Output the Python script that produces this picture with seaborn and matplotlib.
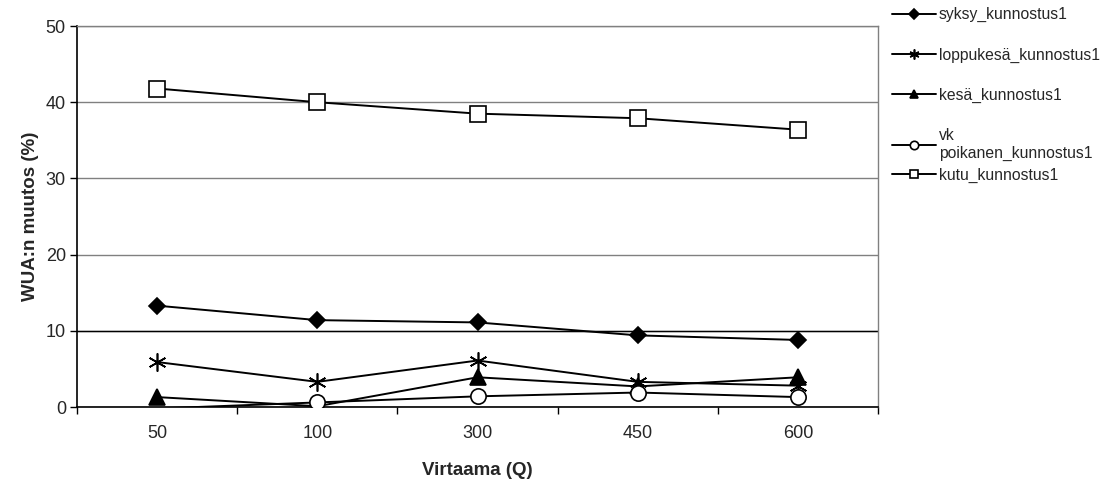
import numpy as np
import pandas as pd
import matplotlib
matplotlib.use("Agg")
import matplotlib.pyplot as plt
import seaborn as sns

# ── DATA ──────────────────────────────────────────────────────────────────────
virtaama = ["50", "100", "300", "450", "600"]
syksy = [13.3, 11.4, 11.1, 9.4, 8.8]
loppukesa = [5.9, 3.3, 6.1, 3.3, 2.8]
kesa = [1.3, 0.1, 3.9, 2.7, 3.9]
vk_poikanen = [-0.2, 0.6, 1.4, 1.9, 1.3]
kutu = [41.8, 40.0, 38.5, 37.9, 36.4]

series_names = ["syksy_kunnostus1", "loppukesä_kunnostus1", "kesä_kunnostus1",
                "vk\npoikanen_kunnostus1", "kutu_kunnostus1"]
series_values = [syksy, loppukesa, kesa, vk_poikanen, kutu]

# marker style per series: (marker, size, facecolor)
STYLES = [("D", 8.5, "black"), ((6, 2, 0), 13, "black"), ("^", 11, "black"),
          ("o", 11, "white"), ("s", 11.5, "white")]

# ── PLOT ──────────────────────────────────────────────────────────────────────
sns.set_style("white")
plt.rcParams["font.family"] = ["Liberation Sans", "DejaVu Sans"]

fig = plt.figure(figsize=(11.05, 4.82), dpi=100)
ax = fig.add_axes([0.0697, 0.1556, 0.7249, 0.7904])

xpos = np.arange(len(virtaama))
for name, vals, (mk, ms, fc) in zip(series_names, series_values, STYLES):
    df = pd.DataFrame({"x": xpos, "y": vals})
    sns.lineplot(data=df, x="x", y="y", ax=ax, color="black", lw=1.4,
                 marker=mk, markersize=ms, markerfacecolor=fc,
                 markeredgecolor="black", markeredgewidth=1.2, label=name,
                 zorder=3)
    line = ax.lines[-1]
    # like the original, don't draw markers that fall below the axis
    line.set_markevery([i for i, v in enumerate(vals) if v >= 0])

ax.set_ylim(0, 50)
ax.set_xlim(-0.5, len(virtaama) - 0.5)
ax.set_yticks([0, 10, 20, 30, 40, 50])
ax.set_xticks(xpos)
ax.set_xticklabels(virtaama)
ax.set_xticks(np.arange(-0.5, len(virtaama)), minor=True)

ax.yaxis.grid(True, color="#808080", lw=1)
ax.axhline(10, color="black", lw=1, zorder=1)
ax.set_axisbelow(True)

ax.tick_params(axis="x", which="major", length=0, labelsize=13, pad=13)
ax.tick_params(axis="x", which="minor", length=5, width=1, color="black",
               direction="out", bottom=True)
ax.tick_params(axis="y", length=5, width=1, color="black", direction="out",
               left=True, labelsize=13, pad=3)

for side in ["left", "bottom"]:
    ax.spines[side].set_color("black")
    ax.spines[side].set_linewidth(1.2)
for side in ["top", "right"]:
    ax.spines[side].set_color("#808080")
    ax.spines[side].set_linewidth(1)

ax.set_xlabel("Virtaama (Q)", fontsize=13.5, fontweight="bold", labelpad=14)
ax.set_ylabel("WUA:n muutos (%)", fontsize=13.5, fontweight="bold", labelpad=5)

# legend split in two so the last entry sits right under the two-line one
handles, labels = ax.get_legend_handles_labels()
leg_opts = dict(bbox_transform=fig.transFigure, frameon=False, fontsize=11.3,
                markerscale=0.55, handlelength=2.8, handletextpad=0.2,
                labelspacing=1.6, borderpad=0, borderaxespad=0)
leg1 = ax.legend(handles[:4], labels[:4], loc="upper left",
                 bbox_to_anchor=(0.807, 0.985), **leg_opts)
ax.add_artist(leg1)
ax.legend(handles[4:], labels[4:], loc="upper left",
          bbox_to_anchor=(0.807, 0.652), **leg_opts)

plt.savefig("out.png", dpi=100)
plt.close()
